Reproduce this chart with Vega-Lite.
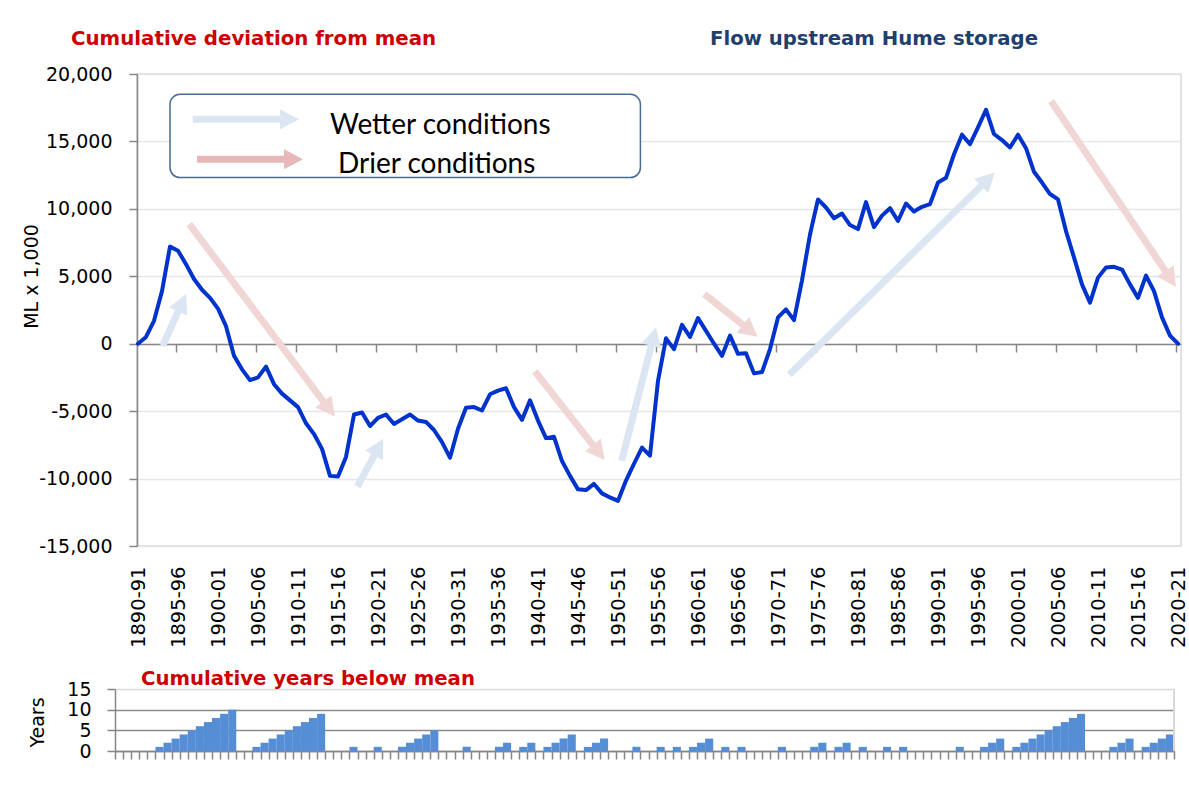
{
  "$schema": "https://vega.github.io/schema/vega-lite/v6.json",
  "background": "white",
  "padding": {"left": 21, "top": 28, "right": 4, "bottom": 10},
  "config": {
    "font": "DejaVu Sans",
    "view": {"stroke": "#d9d9d9", "strokeWidth": 1.5},
    "axis": {
      "labelFont": "DejaVu Sans", "labelFontSize": 19, "labelColor": "#000000",
      "titleFont": "DejaVu Sans", "titleFontSize": 19, "titleFontWeight": "normal", "titleColor": "#000000",
      "domainColor": "#868686", "tickColor": "#868686", "domainWidth": 1.5, "tickWidth": 1.5,
      "gridColor": "#e6e6e6", "gridWidth": 1.5
    }
  },
  "title": {
    "text": "Flow upstream Hume storage", "anchor": "start", "frame": "group",
    "dx": 573, "dy": 36, "offset": 0, "baseline": "alphabetic",
    "color": "#1f3f6e", "font": "DejaVu Sans", "fontSize": 19.7, "fontWeight": "bold"
  },
  "datasets": {
    "hume": [
      {"season": "1890-91", "year": 1890, "dev": 0, "below": 0},
      {"season": "1891-92", "year": 1891, "dev": 500, "below": 0},
      {"season": "1892-93", "year": 1892, "dev": 1700, "below": 0},
      {"season": "1893-94", "year": 1893, "dev": 3900, "below": 0},
      {"season": "1894-95", "year": 1894, "dev": 7200, "below": 0},
      {"season": "1895-96", "year": 1895, "dev": 6900, "below": 1},
      {"season": "1896-97", "year": 1896, "dev": 5900, "below": 2},
      {"season": "1897-98", "year": 1897, "dev": 4800, "below": 3},
      {"season": "1898-99", "year": 1898, "dev": 4000, "below": 4},
      {"season": "1899-00", "year": 1899, "dev": 3400, "below": 5},
      {"season": "1900-01", "year": 1900, "dev": 2600, "below": 6},
      {"season": "1901-02", "year": 1901, "dev": 1300, "below": 7},
      {"season": "1902-03", "year": 1902, "dev": -900, "below": 8},
      {"season": "1903-04", "year": 1903, "dev": -1900, "below": 9},
      {"season": "1904-05", "year": 1904, "dev": -2700, "below": 10},
      {"season": "1905-06", "year": 1905, "dev": -2500, "below": 0},
      {"season": "1906-07", "year": 1906, "dev": -1700, "below": 0},
      {"season": "1907-08", "year": 1907, "dev": -3000, "below": 1},
      {"season": "1908-09", "year": 1908, "dev": -3700, "below": 2},
      {"season": "1909-10", "year": 1909, "dev": -4200, "below": 3},
      {"season": "1910-11", "year": 1910, "dev": -4700, "below": 4},
      {"season": "1911-12", "year": 1911, "dev": -5900, "below": 5},
      {"season": "1912-13", "year": 1912, "dev": -6700, "below": 6},
      {"season": "1913-14", "year": 1913, "dev": -7800, "below": 7},
      {"season": "1914-15", "year": 1914, "dev": -9800, "below": 8},
      {"season": "1915-16", "year": 1915, "dev": -9850, "below": 9},
      {"season": "1916-17", "year": 1916, "dev": -8400, "below": 0},
      {"season": "1917-18", "year": 1917, "dev": -5250, "below": 0},
      {"season": "1918-19", "year": 1918, "dev": -5100, "below": 0},
      {"season": "1919-20", "year": 1919, "dev": -6100, "below": 1},
      {"season": "1920-21", "year": 1920, "dev": -5500, "below": 0},
      {"season": "1921-22", "year": 1921, "dev": -5250, "below": 0},
      {"season": "1922-23", "year": 1922, "dev": -5950, "below": 1},
      {"season": "1923-24", "year": 1923, "dev": -5600, "below": 0},
      {"season": "1924-25", "year": 1924, "dev": -5250, "below": 0},
      {"season": "1925-26", "year": 1925, "dev": -5700, "below": 1},
      {"season": "1926-27", "year": 1926, "dev": -5800, "below": 2},
      {"season": "1927-28", "year": 1927, "dev": -6400, "below": 3},
      {"season": "1928-29", "year": 1928, "dev": -7300, "below": 4},
      {"season": "1929-30", "year": 1929, "dev": -8450, "below": 5},
      {"season": "1930-31", "year": 1930, "dev": -6300, "below": 0},
      {"season": "1931-32", "year": 1931, "dev": -4750, "below": 0},
      {"season": "1932-33", "year": 1932, "dev": -4700, "below": 0},
      {"season": "1933-34", "year": 1933, "dev": -4950, "below": 1},
      {"season": "1934-35", "year": 1934, "dev": -3750, "below": 0},
      {"season": "1935-36", "year": 1935, "dev": -3480, "below": 0},
      {"season": "1936-37", "year": 1936, "dev": -3300, "below": 0},
      {"season": "1937-38", "year": 1937, "dev": -4700, "below": 1},
      {"season": "1938-39", "year": 1938, "dev": -5650, "below": 2},
      {"season": "1939-40", "year": 1939, "dev": -4200, "below": 0},
      {"season": "1940-41", "year": 1940, "dev": -5700, "below": 1},
      {"season": "1941-42", "year": 1941, "dev": -7000, "below": 2},
      {"season": "1942-43", "year": 1942, "dev": -6900, "below": 0},
      {"season": "1943-44", "year": 1943, "dev": -8700, "below": 1},
      {"season": "1944-45", "year": 1944, "dev": -9800, "below": 2},
      {"season": "1945-46", "year": 1945, "dev": -10800, "below": 3},
      {"season": "1946-47", "year": 1946, "dev": -10850, "below": 4},
      {"season": "1947-48", "year": 1947, "dev": -10400, "below": 0},
      {"season": "1948-49", "year": 1948, "dev": -11100, "below": 1},
      {"season": "1949-50", "year": 1949, "dev": -11400, "below": 2},
      {"season": "1950-51", "year": 1950, "dev": -11650, "below": 3},
      {"season": "1951-52", "year": 1951, "dev": -10150, "below": 0},
      {"season": "1952-53", "year": 1952, "dev": -8900, "below": 0},
      {"season": "1953-54", "year": 1953, "dev": -7700, "below": 0},
      {"season": "1954-55", "year": 1954, "dev": -8300, "below": 1},
      {"season": "1955-56", "year": 1955, "dev": -2750, "below": 0},
      {"season": "1956-57", "year": 1956, "dev": 400, "below": 0},
      {"season": "1957-58", "year": 1957, "dev": -400, "below": 1},
      {"season": "1958-59", "year": 1958, "dev": 1400, "below": 0},
      {"season": "1959-60", "year": 1959, "dev": 500, "below": 1},
      {"season": "1960-61", "year": 1960, "dev": 1900, "below": 0},
      {"season": "1961-62", "year": 1961, "dev": 950, "below": 1},
      {"season": "1962-63", "year": 1962, "dev": 0, "below": 2},
      {"season": "1963-64", "year": 1963, "dev": -900, "below": 3},
      {"season": "1964-65", "year": 1964, "dev": 600, "below": 0},
      {"season": "1965-66", "year": 1965, "dev": -750, "below": 1},
      {"season": "1966-67", "year": 1966, "dev": -700, "below": 0},
      {"season": "1967-68", "year": 1967, "dev": -2200, "below": 1},
      {"season": "1968-69", "year": 1968, "dev": -2100, "below": 0},
      {"season": "1969-70", "year": 1969, "dev": -400, "below": 0},
      {"season": "1970-71", "year": 1970, "dev": 1950, "below": 0},
      {"season": "1971-72", "year": 1971, "dev": 2550, "below": 0},
      {"season": "1972-73", "year": 1972, "dev": 1750, "below": 1},
      {"season": "1973-74", "year": 1973, "dev": 4700, "below": 0},
      {"season": "1974-75", "year": 1974, "dev": 8100, "below": 0},
      {"season": "1975-76", "year": 1975, "dev": 10700, "below": 0},
      {"season": "1976-77", "year": 1976, "dev": 10100, "below": 1},
      {"season": "1977-78", "year": 1977, "dev": 9300, "below": 2},
      {"season": "1978-79", "year": 1978, "dev": 9650, "below": 0},
      {"season": "1979-80", "year": 1979, "dev": 8800, "below": 1},
      {"season": "1980-81", "year": 1980, "dev": 8500, "below": 2},
      {"season": "1981-82", "year": 1981, "dev": 10500, "below": 0},
      {"season": "1982-83", "year": 1982, "dev": 8650, "below": 1},
      {"season": "1983-84", "year": 1983, "dev": 9500, "below": 0},
      {"season": "1984-85", "year": 1984, "dev": 10050, "below": 0},
      {"season": "1985-86", "year": 1985, "dev": 9100, "below": 1},
      {"season": "1986-87", "year": 1986, "dev": 10400, "below": 0},
      {"season": "1987-88", "year": 1987, "dev": 9800, "below": 1},
      {"season": "1988-89", "year": 1988, "dev": 10150, "below": 0},
      {"season": "1989-90", "year": 1989, "dev": 10350, "below": 0},
      {"season": "1990-91", "year": 1990, "dev": 11950, "below": 0},
      {"season": "1991-92", "year": 1991, "dev": 12300, "below": 0},
      {"season": "1992-93", "year": 1992, "dev": 14050, "below": 0},
      {"season": "1993-94", "year": 1993, "dev": 15500, "below": 0},
      {"season": "1994-95", "year": 1994, "dev": 14800, "below": 1},
      {"season": "1995-96", "year": 1995, "dev": 16050, "below": 0},
      {"season": "1996-97", "year": 1996, "dev": 17350, "below": 0},
      {"season": "1997-98", "year": 1997, "dev": 15550, "below": 1},
      {"season": "1998-99", "year": 1998, "dev": 15100, "below": 2},
      {"season": "1999-00", "year": 1999, "dev": 14550, "below": 3},
      {"season": "2000-01", "year": 2000, "dev": 15500, "below": 0},
      {"season": "2001-02", "year": 2001, "dev": 14500, "below": 1},
      {"season": "2002-03", "year": 2002, "dev": 12750, "below": 2},
      {"season": "2003-04", "year": 2003, "dev": 11950, "below": 3},
      {"season": "2004-05", "year": 2004, "dev": 11100, "below": 4},
      {"season": "2005-06", "year": 2005, "dev": 10700, "below": 5},
      {"season": "2006-07", "year": 2006, "dev": 8350, "below": 6},
      {"season": "2007-08", "year": 2007, "dev": 6400, "below": 7},
      {"season": "2008-09", "year": 2008, "dev": 4400, "below": 8},
      {"season": "2009-10", "year": 2009, "dev": 3050, "below": 9},
      {"season": "2010-11", "year": 2010, "dev": 4900, "below": 0},
      {"season": "2011-12", "year": 2011, "dev": 5650, "below": 0},
      {"season": "2012-13", "year": 2012, "dev": 5700, "below": 0},
      {"season": "2013-14", "year": 2013, "dev": 5500, "below": 1},
      {"season": "2014-15", "year": 2014, "dev": 4400, "below": 2},
      {"season": "2015-16", "year": 2015, "dev": 3400, "below": 3},
      {"season": "2016-17", "year": 2016, "dev": 5050, "below": 0},
      {"season": "2017-18", "year": 2017, "dev": 3900, "below": 1},
      {"season": "2018-19", "year": 2018, "dev": 1950, "below": 2},
      {"season": "2019-20", "year": 2019, "dev": 600, "below": 3},
      {"season": "2020-21", "year": 2020, "dev": 0, "below": 4}
    ],
    "arrows": [
      {"kind": "wet", "fromYear": 1893.09, "fromVal": -150, "toYear": 1895.08, "toVal": 2470},
      {"kind": "dry", "fromYear": 1896.41, "fromVal": 8870, "toYear": 1913.25, "toVal": -4340},
      {"kind": "wet", "fromYear": 1917.43, "fromVal": -10590, "toYear": 1919.58, "toVal": -8230},
      {"kind": "dry", "fromYear": 1939.61, "fromVal": -2050, "toYear": 1946.94, "toVal": -7570},
      {"kind": "wet", "fromYear": 1950.46, "fromVal": -8670, "toYear": 1954.19, "toVal": -80},
      {"kind": "dry", "fromYear": 1960.79, "fromVal": 3680, "toYear": 1965.7, "toVal": 1350},
      {"kind": "wet", "fromYear": 1971.41, "fromVal": -2300, "toYear": 1995.49, "toVal": 11760},
      {"kind": "dry", "fromYear": 2004.13, "fromVal": 18000, "toYear": 2018.48, "toVal": 5330},
      {"kind": "wet key", "fromYear": 1896.84, "fromVal": 16640, "toYear": 1907.88, "toVal": 16640},
      {"kind": "dry key", "fromYear": 1897.38, "fromVal": 13680, "toYear": 1908.38, "toVal": 13680}
    ],
    "box": [
      {"fromYear": 1894.0, "toYear": 1952.8, "fromVal": 18500, "toVal": 12320}
    ],
    "notes": [
      {"label": "Wetter conditions", "year": 1914.0, "val": 15530},
      {"label": "Drier conditions", "year": 1915.0, "val": 12690}
    ]
  },
  "concat": [
    {
      "width": 1044,
      "height": 472,
      "title": {
        "text": "Cumulative deviation from mean", "anchor": "start", "frame": "group",
        "dx": -66, "offset": 0, "baseline": "alphabetic",
        "color": "#cc0000", "font": "DejaVu Sans", "fontSize": 19.8, "fontWeight": "bold"
      },
      "layer": [
        {
          "data": {"name": "box"},
          "mark": {"type": "rect", "cornerRadius": 10, "fill": "white", "stroke": "#4a6b93", "strokeWidth": 1.5},
          "encoding": {
            "x": {"field": "fromYear", "type": "quantitative", "scale": {"domain": [1889.875, 2020.375], "nice": false, "zero": false}, "axis": null},
            "x2": {"field": "toYear"},
            "y": {"field": "fromVal", "type": "quantitative", "scale": {"domain": [-15000, 20000], "nice": false, "zero": false}, "axis": null},
            "y2": {"field": "toVal"}
          }
        },
        {
          "data": {"name": "arrows"},
          "mark": {"type": "rule", "strokeWidth": 7, "strokeCap": "butt"},
          "encoding": {
            "x": {
              "field": "fromYear", "type": "quantitative",
              "scale": {"domain": [1889.875, 2020.375], "nice": false, "zero": false},
              "axis": {
                "orient": "bottom", "offset": -202, "labels": false, "ticks": true, "tickSize": 8,
                "domain": true, "grid": false, "title": null,
                "values": [1894.7, 1899.7, 1904.7, 1909.7, 1914.7, 1919.7, 1924.7, 1929.7, 1934.7, 1939.7, 1944.7, 1949.7, 1954.7, 1959.7, 1964.7, 1969.7, 1974.7, 1979.7, 1984.7, 1989.7, 1994.7, 1999.7, 2004.7, 2009.7, 2014.7, 2019.7]
              }
            },
            "x2": {"field": "toYear"},
            "y": {"field": "fromVal", "type": "quantitative", "scale": {"domain": [-15000, 20000], "nice": false, "zero": false}, "axis": null},
            "y2": {"field": "toVal"},
            "color": {
              "field": "kind", "type": "nominal", "legend": null,
              "scale": {"domain": ["wet", "dry", "wet key", "dry key"], "range": ["#dce6f2", "#f0d6d5", "#dce6f2", "#e6b9b8"]}
            }
          }
        },
        {
          "data": {"name": "arrows"},
          "mark": {
            "type": "point", "shape": "M0,-1.8L1,0.1L-1,0.1Z", "filled": true, "size": 400, "opacity": 1, "strokeWidth": 0,
            "angle": {"expr": "atan2((datum.toYear - datum.fromYear) * 8, (datum.toVal - datum.fromVal) * 0.013486) * 180 / PI"}
          },
          "encoding": {
            "x": {"field": "toYear", "type": "quantitative", "scale": {"domain": [1889.875, 2020.375], "nice": false, "zero": false}, "axis": null},
            "y": {"field": "toVal", "type": "quantitative", "scale": {"domain": [-15000, 20000], "nice": false, "zero": false}, "axis": null},
            "color": {
              "field": "kind", "type": "nominal", "legend": null,
              "scale": {"domain": ["wet", "dry", "wet key", "dry key"], "range": ["#dce6f2", "#f0d6d5", "#dce6f2", "#e6b9b8"]}
            }
          }
        },
        {
          "data": {"name": "notes"},
          "mark": {"type": "text", "font": "Lato", "fontSize": 28, "align": "left", "baseline": "alphabetic", "color": "#000000"},
          "encoding": {
            "x": {"field": "year", "type": "quantitative", "scale": {"domain": [1889.875, 2020.375], "nice": false, "zero": false}, "axis": null},
            "y": {"field": "val", "type": "quantitative", "scale": {"domain": [-15000, 20000], "nice": false, "zero": false}, "axis": null},
            "text": {"field": "label"}
          }
        },
        {
          "data": {"name": "hume"},
          "mark": {"type": "line", "color": "#0033cc", "strokeWidth": 4, "strokeJoin": "round", "strokeCap": "round"},
          "encoding": {
            "x": {
              "field": "year", "type": "quantitative",
              "scale": {"domain": [1889.875, 2020.375], "nice": false, "zero": false},
              "axis": {
                "orient": "bottom", "title": null, "grid": false, "domain": false, "ticks": false,
                "values": [1890, 1895, 1900, 1905, 1910, 1915, 1920, 1925, 1930, 1935, 1940, 1945, 1950, 1955, 1960, 1965, 1970, 1975, 1980, 1985, 1990, 1995, 2000, 2005, 2010, 2015, 2020],
                "labelExpr": "datum.value + '-' + slice(toString(datum.value + 1), 2)",
                "labelAngle": -90, "labelAlign": "right", "labelBaseline": "middle", "labelFontSize": 19.5,
                "labelPadding": 20, "labelOffset": 0, "labelOverlap": false, "labelFlush": false, "labelBound": false
              }
            },
            "y": {
              "field": "dev", "type": "quantitative",
              "scale": {"domain": [-15000, 20000], "nice": false, "zero": false},
              "axis": {
                "values": [-15000, -10000, -5000, 0, 5000, 10000, 15000, 20000],
                "labelExpr": "replace(format(datum.value, ','), '\u2212', '-')",
                "grid": true, "tickSize": 8, "labelPadding": 17, "domain": true,
                "title": "ML x 1,000", "titleX": -100, "titleY": 202, "titleAngle": 270,
                "titleAlign": "center", "titleBaseline": "alphabetic"
              }
            }
          }
        }
      ],
      "resolve": {"axis": {"x": "independent", "y": "independent"}}
    },
    {
      "width": 1037,
      "height": 62,
      "view": {"stroke": null},
      "title": {
        "text": "Cumulative years below mean", "anchor": "start", "frame": "group",
        "dx": 4, "offset": -25, "baseline": "alphabetic",
        "color": "#cc0000", "font": "DejaVu Sans", "fontSize": 19.7, "fontWeight": "bold"
      },
      "data": {"name": "hume"},
      "layer": [
        {
          "mark": {"type": "bar", "color": "#558ed5"},
          "encoding": {
            "x": {
              "field": "season", "type": "ordinal", "sort": null,
              "scale": {"range": [-22, 1037], "paddingInner": 0, "paddingOuter": 0},
              "axis": {"labels": false, "ticks": true, "tickBand": "extent", "tickSize": 8, "domain": true, "grid": false, "title": null}
            },
            "y": {
              "field": "below", "type": "quantitative",
              "scale": {"domain": [0, 15], "nice": false},
              "axis": {
                "values": [0, 5, 10, 15], "offset": 22, "tickSize": 8, "labelPadding": 16,
                "labelOverlap": false, "labelFlush": false,
                "grid": true,
                "gridColor": {"condition": {"test": "datum.value === 15", "value": "#d9d9d9"}, "value": "#8c8c8c"},
                "gridWidth": 1.5,
                "title": "Years", "titleX": -72, "titleY": 33, "titleAngle": 270,
                "titleAlign": "center", "titleBaseline": "alphabetic"
              }
            }
          }
        },
        {
          "mark": {"type": "rule", "color": "#d9d9d9", "strokeWidth": 1.5},
          "encoding": {
            "x": {"datum": "2020-21", "type": "ordinal", "bandPosition": 1, "axis": null},
            "y": {"datum": 0, "type": "quantitative", "axis": null},
            "y2": {"datum": 15}
          }
        }
      ],
      "resolve": {"axis": {"y": "independent", "x": "independent"}}
    }
  ],
  "columns": 1,
  "spacing": 20
}
